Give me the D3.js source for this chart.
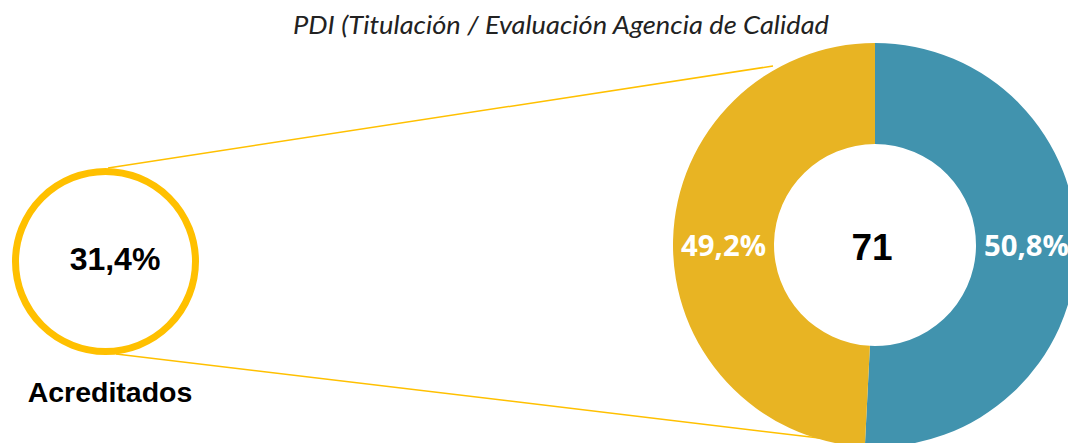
<!DOCTYPE html>
<html><head><meta charset="utf-8">
<script src="https://cdn.jsdelivr.net/npm/d3@7"></script>
<style>html,body{margin:0;padding:0;background:#fff;overflow:hidden}</style>
</head><body>
<svg id="chart" width="1068" height="443"></svg>
<script>
const title = "PDI (Titulación / Evaluación Agencia de Calidad";
const categories = ["Sí", "No"];
const values = [50.8, 49.2];
const sliceLabels = ["50,8%", "49,2%"];
const colors = ["#4193AE", "#E8B423"];
const totalLabel = "71";
const accreditedLabel = "31,4%";
const accreditedName = "Acreditados";

const svg = d3.select("#chart");

// title
svg.append("text").attr("x", 561).attr("y", 34).attr("text-anchor", "middle")
  .attr("font-family", "Lato, 'Open Sans', sans-serif").attr("font-style", "italic")
  .attr("font-size", 25).attr("fill", "#222").attr("textLength", 536).attr("lengthAdjust","spacingAndGlyphs")
  .text(title);

const small = {cx: 105.5, cy: 261.5, r: 90};
const big = {cx: 875, cy: 245, rO: 202, rI: 101};
svg.append("line").attr("x1", 108).attr("y1", 168).attr("x2", 773).attr("y2", 66)
  .attr("stroke", "#FFC000").attr("stroke-width", 1.5);
svg.append("line").attr("x1", 116).attr("y1", 354).attr("x2", 836).attr("y2", 440)
  .attr("stroke", "#FFC000").attr("stroke-width", 1.5);

// donut
const pie = d3.pie().sort(null).value(d => d)(values);
const arc = d3.arc().innerRadius(big.rI).outerRadius(big.rO);
const g = svg.append("g").attr("transform", `translate(${big.cx},${big.cy})`);
g.selectAll("path").data(pie).join("path").attr("d", arc).attr("fill", (d, i) => colors[i]);
g.selectAll("text.lab").data(pie).join("text").attr("class", "lab")
  .attr("x", d => arc.centroid(d)[0]).attr("y", 11)
  .attr("text-anchor", "middle").attr("fill", "#fff")
  .attr("font-family", "'Open Sans', sans-serif").attr("font-weight", "bold").attr("font-size", 28)
  .attr("textLength", 85).attr("lengthAdjust", "spacingAndGlyphs")
  .text((d, i) => sliceLabels[i]);
g.append("text").attr("x", -3).attr("y", 15).attr("text-anchor", "middle")
  .attr("font-family", "'Liberation Sans', Arial, sans-serif").attr("font-weight", "bold")
  .attr("font-size", 37).attr("fill", "#000").text(totalLabel);

// small circle
svg.append("circle").attr("cx", small.cx).attr("cy", small.cy).attr("r", small.r)
  .attr("fill", "#fff").attr("stroke", "#FFC000").attr("stroke-width", 7);
svg.append("text").attr("x", 115).attr("y", 270).attr("text-anchor", "middle")
  .attr("font-family", "'Liberation Sans', Arial, sans-serif").attr("font-weight", "bold")
  .attr("font-size", 32).attr("fill", "#000").text(accreditedLabel);
svg.append("text").attr("x", 110).attr("y", 402).attr("text-anchor", "middle")
  .attr("font-family", "'Liberation Sans', Arial, sans-serif").attr("font-weight", "bold")
  .attr("font-size", 28.5).attr("fill", "#000").text(accreditedName);
</script>
</body></html>
